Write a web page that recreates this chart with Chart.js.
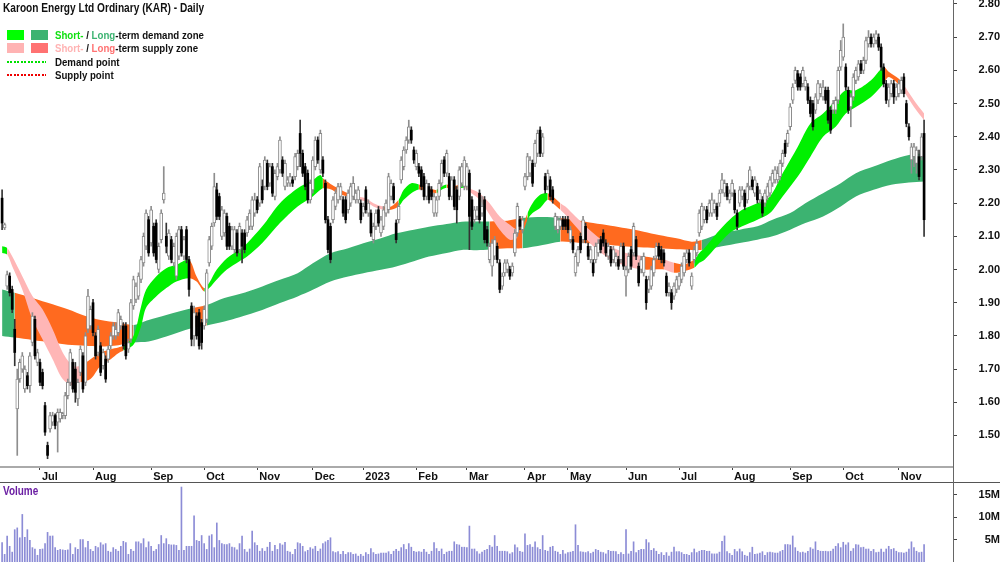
<!DOCTYPE html>
<html>
<head>
<meta charset="utf-8">
<script src="https://cdn.jsdelivr.net/npm/chart.js@4.4.0/dist/chart.umd.min.js"></script>
<style>
body { margin: 0; background: #fff; }
#wrap { position: relative; width: 1000px; height: 562px; overflow: hidden; background: #fff; font-family: 'Liberation Sans', Arial, sans-serif; }
#price { position: absolute; left: 0; top: 0; }
#vol { position: absolute; left: 0; top: 483px; }
.hline { position: absolute; left: 0; top: 482px; width: 1000px; height: 1px; background: #555; }
.vline { position: absolute; left: 953px; top: 0; width: 1px; height: 562px; background: #666; }
.txt { position: absolute; white-space: nowrap; font-weight: bold; transform-origin: 0 0; color: #111; }
.title { left: 3px; top: 1px; font-size: 12px; line-height: 14px; transform: scaleX(.845); }
.leg { left: 55px; font-size: 11px; line-height: 13px; transform: scaleX(.88); }
.sw { position: absolute; width: 17px; height: 10px; }
.dots { position: absolute; left: 7px; width: 39px; height: 2px; }
.volname { left: 3px; top: 484px; font-size: 12px; line-height: 14px; color: #6b1fa3; transform: scaleX(.83); }
</style>
</head>
<body>
<div id="wrap">
  <canvas id="price" width="1000" height="482"></canvas>
  <canvas id="vol" width="1000" height="79"></canvas>
  <div class="hline"></div>
  <div class="vline"></div>
  <div class="txt title">Karoon Energy Ltd Ordinary (KAR) - Daily</div>
  <div class="sw" style="left:7px;top:30px;background:#00ff00"></div>
  <div class="sw" style="left:31px;top:30px;background:#3cb371"></div>
  <div class="txt leg" style="top:29px"><span style="color:#10e010">Short-</span> / <span style="color:#3cb371">Long</span>-term demand zone</div>
  <div class="sw" style="left:7px;top:43px;background:#ffb3b3"></div>
  <div class="sw" style="left:31px;top:43px;background:#ff7272"></div>
  <div class="txt leg" style="top:42px"><span style="color:#ffb3b3">Short-</span> / <span style="color:#ff7272">Long</span>-term supply zone</div>
  <div class="dots" style="top:61px;background:repeating-linear-gradient(to right,#00e000 0 2px,transparent 2px 3.5px)"></div>
  <div class="txt leg" style="top:56px">Demand point</div>
  <div class="dots" style="top:74px;background:repeating-linear-gradient(to right,#ee0000 0 2px,transparent 2px 3.5px)"></div>
  <div class="txt leg" style="top:69px">Supply point</div>
  <div class="txt volname">Volume</div>
</div>
<script>
// trading day index 0 = ~9 Jun 2022, last = ~15 Nov 2023
const monthDays = [15, 36, 59, 80, 101, 123, 143, 164, 184, 207, 224, 247, 268, 289, 312, 333, 355];
const monthLabels = ['Jul', 'Aug', 'Sep', 'Oct', 'Nov', 'Dec', '2023', 'Feb', 'Mar', 'Apr', 'May', 'Jun', 'Jul', 'Aug', 'Sep', 'Oct', 'Nov'];
const priceTicks = [1.5, 1.6, 1.7, 1.8, 1.9, 2.0, 2.1, 2.2, 2.3, 2.4, 2.5, 2.6, 2.7, 2.8];
const volTicks = [5, 10, 15];

const open = [
2.215,2.125,1.95,1.98,1.94,1.82,1.58,1.67,1.70,1.64,1.68,1.65,1.78,1.85,1.72,1.72,1.69,1.59,1.47,1.52,
1.54,1.56,1.54,1.55,1.56,1.56,1.62,1.66,1.72,1.70,1.61,1.69,1.74,1.66,1.82,1.83,1.90,1.80,1.75,1.77,
1.71,1.73,1.73,1.77,1.80,1.80,1.81,1.83,1.83,1.83,1.76,1.79,1.89,1.91,1.92,1.97,2.02,2.07,2.15,2.08,
2.13,2.14,2.00,2.09,2.21,2.10,2.04,2.09,2.02,1.98,2.04,2.12,2.04,2.12,2.03,1.89,1.80,1.86,1.87,1.84,
1.83,1.85,2.02,2.07,2.14,2.24,2.22,2.10,2.11,2.16,2.13,2.07,2.06,2.11,2.06,2.11,2.11,2.11,2.13,2.13,
2.17,2.21,2.20,2.25,2.25,2.32,2.26,2.31,2.22,2.28,2.30,2.33,2.25,2.26,2.26,2.27,2.28,2.31,2.41,2.35,
2.31,2.29,2.21,2.24,2.31,2.39,2.30,2.33,2.26,2.15,2.13,2.15,2.19,2.21,2.22,2.21,2.21,2.18,2.20,2.22,
2.21,2.21,2.20,2.17,2.24,2.17,2.17,2.09,2.13,2.18,2.11,2.13,2.17,2.18,2.22,2.25,2.14,2.15,2.27,2.31,
2.36,2.39,2.42,2.36,2.31,2.31,2.30,2.28,2.22,2.25,2.24,2.17,2.17,2.22,2.26,2.33,2.29,2.28,2.22,2.27,
2.24,2.22,2.26,2.25,2.25,2.29,2.21,2.15,2.16,2.23,2.17,2.21,2.12,2.03,2.01,2.04,2.07,2.02,1.95,1.99,
2.00,2.00,1.99,2.05,2.11,2.15,2.12,2.25,2.28,2.29,2.32,2.32,2.35,2.42,2.35,2.28,2.25,2.27,2.24,2.13,
2.12,2.13,2.15,2.15,2.15,2.09,2.09,1.99,2.02,2.10,2.09,2.13,2.07,2.03,2.02,2.03,2.05,2.09,2.11,2.08,
2.04,2.06,2.03,2.02,2.03,2.03,2.07,1.98,2.00,2.06,2.05,2.09,2.01,2.00,1.99,1.97,1.94,1.95,1.99,2.04,
2.07,2.06,2.05,1.98,1.93,1.93,1.92,1.94,1.95,1.97,1.99,2.03,2.05,1.95,2.03,2.05,2.11,2.13,2.15,2.18,
2.17,2.17,2.18,2.19,2.20,2.24,2.23,2.25,2.21,2.23,2.23,2.17,2.20,2.22,2.23,2.21,2.25,2.27,2.23,2.25,
2.21,2.21,2.20,2.22,2.23,2.26,2.27,2.27,2.28,2.32,2.38,2.38,2.43,2.51,2.57,2.59,2.58,2.56,2.55,2.55,
2.51,2.50,2.48,2.51,2.53,2.52,2.54,2.54,2.48,2.48,2.48,2.51,2.61,2.64,2.61,2.54,2.49,2.52,2.57,2.58,
2.62,2.60,2.63,2.68,2.70,2.68,2.69,2.70,2.67,2.61,2.56,2.51,2.53,2.56,2.52,2.53,2.54,2.58,2.50,2.43,
2.33,2.34,2.32,2.34,2.34,2.41];
const high = [
2.24,2.14,1.995,1.99,1.95,1.85,1.70,1.73,1.75,1.71,1.69,1.75,1.87,1.86,1.76,1.73,1.70,1.60,1.48,1.57,
1.57,1.565,1.58,1.58,1.57,1.63,1.67,1.76,1.73,1.72,1.67,1.77,1.75,1.81,1.94,1.89,1.91,1.81,1.83,1.78,
1.76,1.74,1.77,1.81,1.84,1.84,1.88,1.86,1.84,1.84,1.79,1.91,1.98,1.96,1.99,2.04,2.11,2.18,2.16,2.19,
2.14,2.15,2.08,2.18,2.31,2.14,2.12,2.10,2.08,2.11,2.13,2.13,2.10,2.13,2.04,1.90,1.89,1.87,1.88,1.85,
1.89,2.00,2.10,2.14,2.29,2.26,2.23,2.19,2.18,2.17,2.14,2.13,2.13,2.12,2.14,2.12,2.12,2.16,2.18,2.22,
2.23,2.22,2.32,2.27,2.34,2.33,2.32,2.32,2.30,2.32,2.40,2.34,2.33,2.28,2.29,2.28,2.35,2.36,2.45,2.36,
2.32,2.30,2.27,2.34,2.40,2.40,2.42,2.34,2.27,2.16,2.14,2.22,2.24,2.26,2.26,2.22,2.22,2.24,2.26,2.28,
2.24,2.25,2.21,2.20,2.25,2.21,2.18,2.14,2.18,2.19,2.16,2.19,2.21,2.29,2.27,2.26,2.15,2.20,2.34,2.37,
2.40,2.45,2.43,2.37,2.36,2.32,2.31,2.29,2.27,2.26,2.25,2.23,2.22,2.27,2.33,2.34,2.36,2.29,2.28,2.28,
2.25,2.31,2.32,2.34,2.32,2.30,2.22,2.19,2.19,2.24,2.22,2.22,2.13,2.08,2.09,2.10,2.08,2.03,1.99,2.03,
2.03,2.01,2.02,2.12,2.20,2.16,2.16,2.29,2.35,2.34,2.33,2.39,2.42,2.43,2.41,2.29,2.30,2.28,2.25,2.17,
2.16,2.16,2.16,2.16,2.16,2.13,2.10,2.05,2.07,2.11,2.16,2.14,2.08,2.07,2.03,2.08,2.09,2.10,2.12,2.09,
2.08,2.07,2.07,2.05,2.04,2.08,2.08,2.01,2.05,2.07,2.14,2.10,2.02,2.04,2.05,1.98,1.98,2.01,2.04,2.08,
2.08,2.07,2.06,1.99,1.96,1.94,1.96,1.98,1.99,2.02,2.05,2.06,2.06,1.99,2.07,2.09,2.18,2.20,2.19,2.19,
2.21,2.23,2.21,2.20,2.24,2.29,2.27,2.26,2.24,2.27,2.24,2.18,2.25,2.25,2.24,2.26,2.31,2.28,2.28,2.26,
2.24,2.22,2.24,2.26,2.28,2.30,2.31,2.31,2.33,2.36,2.39,2.42,2.50,2.56,2.61,2.60,2.59,2.61,2.58,2.56,
2.52,2.51,2.53,2.57,2.56,2.57,2.55,2.55,2.49,2.51,2.52,2.61,2.69,2.74,2.62,2.55,2.53,2.59,2.61,2.63,
2.63,2.64,2.70,2.72,2.71,2.71,2.72,2.71,2.68,2.62,2.57,2.56,2.57,2.57,2.56,2.57,2.58,2.59,2.51,2.44,
2.38,2.38,2.37,2.36,2.41,2.45];
const low = [
2.12,2.12,1.94,1.92,1.87,1.71,1.44,1.66,1.69,1.63,1.64,1.63,1.77,1.73,1.71,1.65,1.64,1.50,1.43,1.51,
1.53,1.52,1.45,1.54,1.55,1.55,1.61,1.65,1.63,1.60,1.59,1.68,1.63,1.65,1.81,1.82,1.80,1.73,1.74,1.68,
1.70,1.66,1.72,1.76,1.79,1.79,1.80,1.82,1.76,1.73,1.75,1.78,1.88,1.90,1.91,1.96,2.01,2.06,2.04,2.07,
2.04,2.02,1.99,2.08,2.20,2.05,2.03,2.02,2.01,1.97,2.03,2.04,2.03,2.02,1.92,1.77,1.77,1.79,1.76,1.76,
1.82,1.84,2.01,2.06,2.13,2.15,2.15,2.09,2.10,2.06,2.06,2.06,2.05,2.04,2.05,2.02,2.05,2.10,2.12,2.12,
2.16,2.17,2.19,2.20,2.24,2.24,2.25,2.22,2.21,2.27,2.29,2.28,2.24,2.25,2.25,2.25,2.27,2.30,2.31,2.28,
2.24,2.20,2.20,2.23,2.30,2.32,2.29,2.28,2.14,2.05,2.02,2.14,2.18,2.20,2.21,2.16,2.14,2.17,2.19,2.21,
2.20,2.20,2.14,2.16,2.17,2.16,2.10,2.08,2.12,2.13,2.10,2.12,2.16,2.17,2.21,2.20,2.08,2.14,2.26,2.30,
2.35,2.38,2.38,2.32,2.30,2.28,2.24,2.21,2.21,2.20,2.21,2.16,2.16,2.21,2.25,2.28,2.28,2.21,2.21,2.18,
2.14,2.21,2.25,2.24,2.24,2.06,2.12,2.14,2.15,2.14,2.16,2.08,2.07,2.02,1.98,2.03,2.02,1.93,1.94,1.98,
1.99,1.97,1.98,2.04,2.10,2.12,2.11,2.24,2.27,2.28,2.25,2.31,2.34,2.34,2.34,2.23,2.24,2.21,2.20,2.12,
2.11,2.12,2.12,2.12,2.11,2.08,2.05,1.98,2.01,2.05,2.08,2.08,2.03,2.02,1.98,2.02,2.04,2.05,2.07,2.04,
2.03,2.01,2.02,2.01,2.00,2.02,2.00,1.92,1.99,2.00,2.04,2.03,1.95,1.99,1.98,1.88,1.93,1.94,1.98,2.03,
2.03,2.02,2.01,1.92,1.92,1.88,1.91,1.93,1.94,1.96,1.98,2.02,2.01,1.94,2.02,2.04,2.10,2.12,2.14,2.14,
2.16,2.16,2.17,2.15,2.19,2.23,2.22,2.21,2.20,2.22,2.17,2.12,2.19,2.21,2.18,2.20,2.24,2.24,2.22,2.20,
2.20,2.16,2.19,2.21,2.22,2.25,2.26,2.26,2.27,2.31,2.34,2.37,2.42,2.50,2.56,2.54,2.54,2.55,2.54,2.50,
2.46,2.42,2.47,2.50,2.52,2.51,2.50,2.44,2.41,2.47,2.47,2.50,2.60,2.63,2.54,2.47,2.43,2.51,2.56,2.57,
2.59,2.59,2.62,2.67,2.67,2.67,2.68,2.66,2.60,2.55,2.50,2.49,2.52,2.50,2.51,2.52,2.53,2.52,2.43,2.39,
2.29,2.31,2.29,2.27,2.33,2.10];
const close = [
2.14,2.135,1.985,1.93,1.88,1.75,1.67,1.72,1.74,1.70,1.65,1.74,1.86,1.74,1.75,1.66,1.65,1.51,1.44,1.56,
1.56,1.53,1.57,1.57,1.565,1.62,1.66,1.75,1.64,1.63,1.66,1.76,1.64,1.80,1.92,1.88,1.81,1.74,1.82,1.69,
1.75,1.67,1.76,1.80,1.83,1.82,1.87,1.85,1.77,1.74,1.78,1.90,1.97,1.95,1.98,2.03,2.10,2.17,2.05,2.18,
2.05,2.03,2.07,2.17,2.23,2.07,2.11,2.03,2.07,2.10,2.12,2.05,2.09,2.03,1.94,1.79,1.87,1.80,1.77,1.78,
1.88,1.99,2.09,2.13,2.25,2.16,2.16,2.18,2.17,2.07,2.07,2.12,2.12,2.05,2.13,2.07,2.06,2.15,2.17,2.21,
2.21,2.18,2.31,2.21,2.33,2.25,2.31,2.23,2.29,2.31,2.39,2.29,2.32,2.27,2.28,2.26,2.34,2.35,2.35,2.29,
2.25,2.21,2.26,2.33,2.39,2.33,2.41,2.29,2.15,2.06,2.03,2.21,2.23,2.25,2.25,2.17,2.15,2.23,2.25,2.26,
2.23,2.24,2.15,2.19,2.18,2.20,2.11,2.13,2.17,2.14,2.15,2.18,2.20,2.28,2.26,2.21,2.09,2.19,2.33,2.36,
2.39,2.43,2.39,2.33,2.35,2.29,2.25,2.22,2.26,2.21,2.22,2.22,2.21,2.26,2.32,2.29,2.35,2.22,2.27,2.19,
2.18,2.30,2.31,2.33,2.31,2.16,2.13,2.18,2.18,2.15,2.19,2.09,2.08,2.07,2.08,2.09,2.03,1.94,1.98,2.02,
2.02,1.98,2.01,2.11,2.19,2.13,2.15,2.28,2.34,2.33,2.26,2.38,2.41,2.35,2.40,2.24,2.29,2.22,2.21,2.16,
2.15,2.15,2.13,2.13,2.12,2.12,2.06,2.04,2.06,2.06,2.15,2.09,2.04,2.06,1.99,2.07,2.08,2.06,2.08,2.05,
2.07,2.02,2.06,2.04,2.01,2.07,2.01,2.00,2.04,2.01,2.13,2.04,1.96,2.03,2.04,1.90,1.97,2.00,2.03,2.07,
2.04,2.03,2.02,1.93,1.95,1.90,1.95,1.97,1.98,2.01,2.04,2.05,2.02,1.98,2.06,2.08,2.17,2.19,2.18,2.15,
2.20,2.21,2.20,2.16,2.23,2.27,2.26,2.22,2.23,2.26,2.18,2.13,2.24,2.24,2.19,2.25,2.30,2.25,2.27,2.21,
2.23,2.17,2.23,2.25,2.27,2.29,2.30,2.29,2.32,2.35,2.35,2.41,2.49,2.55,2.60,2.55,2.55,2.60,2.57,2.51,
2.47,2.43,2.52,2.56,2.55,2.55,2.51,2.45,2.42,2.50,2.51,2.60,2.66,2.70,2.55,2.48,2.52,2.58,2.60,2.62,
2.60,2.63,2.69,2.70,2.68,2.70,2.71,2.67,2.61,2.56,2.51,2.55,2.56,2.52,2.55,2.56,2.57,2.53,2.44,2.40,
2.37,2.37,2.36,2.28,2.40,2.15];

const volume = [
4.3,1.7,5.8,3.5,2.2,7.2,7.6,5.4,10.6,5.5, 7.2,4.8,3.2,2.9,1.5,2.8,2.9,4.1,6.6,5.8,
5.8,3.2,2.6,2.8,2.7,2.6,2.7,4.1,1.7,3.2, 2.8,5.0,5.0,3.2,4.6,2.8,2.4,3.5,3.2,4.3,
3.8,4.1,2.4,2.2,3.2,2.8,2.4,3.5,4.6,4.3, 1.7,2.8,2.4,4.5,4.5,4.1,5.2,3.2,4.5,3.5,
2.4,2.8,3.9,5.9,4.1,5.2,3.9,3.8,3.8,3.7, 2.6,16.7,2.6,3.5,3.5,3.5,10.3,4.8,4.6,5.9,
4.1,2.8,5.8,6.1,3.2,8.7,4.8,4.1,3.9,3.9, 4.1,3.3,3.2,2.7,4.1,5.8,2.8,2.2,2.9,6.9,
4.3,3.7,2.4,3.0,2.4,3.3,4.4,2.4,3.7,2.8, 4.1,3.8,4.4,2.4,2.2,1.7,2.8,4.3,4.1,3.5,
2.3,2.6,3.2,2.9,3.5,2.4,2.9,4.1,4.5,4.8, 5.4,2.3,2.1,2.3,1.7,2.4,1.7,2.1,2.1,1.7,
1.8,1.3,1.7,1.3,2.1,1.7,3.0,2.1,1.7, 1.8,2.0,2.0,2.0,2.3,1.7,2.4,2.8,2.4,3.2,
3.9,2.8,4.1,3.3,2.4,2.2,2.3,2.2,2.8,2.2, 1.7,2.4,4.3,3.0,2.4,2.9,1.7,2.2,2.4,
2.4,4.5,3.9,3.8,3.3,3.3,3.2,8.0,2.9,2.9, 2.3,1.8,2.2,2.6,2.8,3.7,3.3,5.9,3.5,2.4,
2.4,2.4,2.3,1.8,2.1,3.8,3.2,2.4,2.2,6.3, 3.7,3.9,3.3,4.5,3.2,2.8,5.9,2.6,2.4,3.3,
3.5,2.4,2.2,1.7,2.6,1.8,2.1,2.2,2.4,8.3, 3.7,2.3,2.2,2.1,2.3,1.9,2.2,2.8,2.6,2.2,
2.1,1.8,2.6,2.4,2.4,2.3,1.7,2.1,1.7, 7.2,1.8,2.4,4.5,2.1,2.6,2.8,2.8,5.0,4.3,
2.6,3.0,2.4,1.7,2.1,1.5,2.1,1.3,2.2,3.3, 2.3,2.3,2.1,1.7,1.7,1.5,2.1,2.9,2.1,
2.4,2.6,2.6,2.4,2.4,1.8,1.8,1.8,2.2,4.6, 5.8,2.3,1.9,1.5,2.8,2.3,2.9,2.3,1.5,1.3,
2.1,3.3,1.7,1.8,2.0,2.3,1.5,2.1,2.2, 2.1,2.0,2.0,2.3,2.6,3.9,3.9,3.8,5.8,3.2,
2.4,2.1,2.2,2.0,2.4,3.2,2.9,4.5,2.6,2.4, 2.4,2.4,2.3,2.4,2.9,3.5,4.1,3.2,4.4,3.8,
4.3,2.4,3.0,3.9,3.8,3.2,3.3,2.9,2.9,2.4, 2.8,2.1,2.2,2.9,2.2,2.9,3.5,2.8,3.0,2.4,
2.1,2.1,2.0,2.2,2.9,4.5,3.2,2.4,2.1,2.2, 3.9];

// long-term band edges (sampled), zone D = demand, S = supply
const longDays = [0,5,12,20,26,33,39,46,52,58,65,75,81,88,94,103,110,117,123,130,137,143,150,156,163,169,176,182,188,193,200,206,214,221,228,234,241,247,254,260,267,273,277,285,292,299,305,312,318,325,332,338,345,352,359,365];
const longHi = [1.94,1.93,1.914,1.895,1.88,1.86,1.848,1.84,1.833,1.848,1.863,1.883,1.893,1.914,1.926,1.949,1.969,1.989,2.019,2.049,2.064,2.079,2.094,2.109,2.12,2.129,2.137,2.144,2.145,2.145,2.147,2.155,2.158,2.155,2.148,2.14,2.132,2.124,2.114,2.104,2.094,2.084,2.089,2.11,2.12,2.13,2.15,2.17,2.20,2.23,2.26,2.29,2.31,2.33,2.345,2.35];
const longLo = [1.80,1.795,1.788,1.78,1.773,1.77,1.768,1.772,1.78,1.783,1.798,1.823,1.831,1.843,1.856,1.878,1.899,1.919,1.939,1.964,1.979,1.989,1.999,2.009,2.025,2.039,2.05,2.059,2.058,2.06,2.064,2.064,2.074,2.084,2.081,2.079,2.074,2.069,2.066,2.064,2.061,2.059,2.059,2.07,2.08,2.09,2.10,2.12,2.14,2.16,2.19,2.22,2.24,2.255,2.262,2.265];
const longZone = ['D','S','S','S','S','S','S','S','D','D','D','S','D','D','D','D','D','D','D','D','D','D','D','D','D','D','D','D','D','S','S','D','D','S','S','S','S','S','S','S','S','S','D','D','D','D','D','D','D','D','D','D','D','D','D','D'];

// short-term band edges (sampled), zone D = demand, S = supply, T = turning
const shortDays = [0,2,4,8,12,16,20,24,28,31,35,39,43,46,48,52,55,57,61,65,69,74,77,80,82,85,89,94,97,103,110,117,123,126,127,130,133,137,139,141,144,147,151,154,157,159,162,165,169,172,174,176,178,181,183,185,189,193,197,201,204,206,208,210,213,216,218,221,223,227,234,241,247,254,258,262,266,270,274,276,278,283,288,293,299,304,309,315,320,325,330,334,338,344,349,351,355,357,361,365];
const shortHi = [2.07,2.065,2.04,1.98,1.92,1.88,1.82,1.75,1.71,1.71,1.73,1.75,1.76,1.765,1.77,1.80,1.888,1.939,1.979,2.004,2.014,2.029,1.979,1.944,1.96,2.0,2.034,2.06,2.079,2.13,2.20,2.245,2.27,2.285,2.275,2.258,2.245,2.23,2.229,2.22,2.215,2.20,2.19,2.19,2.21,2.24,2.26,2.256,2.245,2.24,2.25,2.256,2.25,2.255,2.256,2.245,2.23,2.20,2.16,2.135,2.12,2.13,2.17,2.20,2.225,2.23,2.22,2.20,2.19,2.16,2.11,2.07,2.05,2.04,2.035,2.03,2.02,2.015,2.03,2.05,2.064,2.11,2.15,2.18,2.20,2.22,2.29,2.37,2.44,2.47,2.51,2.54,2.54,2.57,2.61,2.596,2.575,2.556,2.51,2.47];
const shortLo = [2.05,2.045,2.01,1.94,1.85,1.79,1.73,1.67,1.65,1.66,1.67,1.71,1.73,1.748,1.755,1.773,1.828,1.885,1.919,1.944,1.964,1.974,1.964,1.934,1.944,1.97,2.0,2.025,2.039,2.08,2.14,2.19,2.22,2.24,2.245,2.242,2.23,2.22,2.221,2.21,2.205,2.19,2.18,2.18,2.19,2.21,2.23,2.241,2.235,2.23,2.24,2.246,2.24,2.245,2.246,2.235,2.21,2.165,2.12,2.09,2.095,2.11,2.15,2.17,2.185,2.21,2.20,2.18,2.165,2.13,2.07,2.03,2.01,2.0,2.0,2.0,1.99,1.995,2.005,2.02,2.029,2.07,2.11,2.13,2.15,2.17,2.22,2.28,2.34,2.40,2.43,2.47,2.49,2.52,2.56,2.58,2.557,2.536,2.49,2.45];
const shortZone = ['D','S','S','S','S','S','S','S','S','T','T','T','T','T','D','D','D','D','D','D','D','T','T','D','D','D','D','D','D','D','D','D','D','D','T','T','T','D','S','S','S','S','T','T','D','D','D','T','T','D','D','T','T','D','S','S','S','S','S','S','T','T','D','D','D','T','T','S','S','S','S','S','S','T','T','S','T','T','D','D','D','D','D','D','D','D','D','D','D','D','D','D','D','D','T','T','T','S','S','S'];

const longColours = { D: '#3cb371', S: '#ff6a1f' };
const shortColours = { D: '#00f000', S: '#ffb6b6', T: '#ff6a1f' };

const xMin = -0.83, xMax = 376.45;
const tickFont = { family: "'Liberation Sans', Arial, sans-serif", size: 11, weight: 'bold' };

function bandLine(days, vals) {
  return days.map((d, k) => ({ x: d, y: vals[k] }));
}
const isUp = i => close[i] >= open[i];
const upBodies = [], downBodies = [];
open.forEach((o, i) => (isUp(i) ? upBodies : downBodies).push({ x: i, y: [o, close[i]] }));

new Chart(document.getElementById('price'), {
  type: 'bar',
  data: {
    datasets: [
      { type: 'line', data: bandLine(longDays, longLo), order: 6, borderColor: 'rgba(0,0,0,0)', borderWidth: 0, pointRadius: 0, tension: 0.3, fill: false },
      { type: 'line', data: bandLine(longDays, longHi), order: 5, borderColor: 'rgba(0,0,0,0)', borderWidth: 0, pointRadius: 0, tension: 0.3,
        fill: '-1', backgroundColor: longColours.D,
        segment: { backgroundColor: c => longColours[longZone[c.p0DataIndex]] } },
      { type: 'line', data: bandLine(shortDays, shortLo), order: 4, borderColor: 'rgba(0,0,0,0)', borderWidth: 0, pointRadius: 0, tension: 0.3, fill: false },
      { type: 'line', data: bandLine(shortDays, shortHi), order: 3, borderColor: 'rgba(0,0,0,0)', borderWidth: 0, pointRadius: 0, tension: 0.3,
        fill: '-1', backgroundColor: shortColours.D,
        segment: { backgroundColor: c => shortColours[shortZone[c.p0DataIndex]] } },
      { data: low.map((v, i) => ({ x: i, y: [v, high[i]] })), order: 2, barThickness: 1, grouped: false,
        backgroundColor: c => isUp(c.dataIndex) ? '#8e8e8e' : '#333' },
      { data: upBodies, order: 1, barThickness: 3, grouped: false, minBarLength: 2,
        backgroundColor: '#ffffff', borderColor: '#8a8a8a', borderWidth: 1, borderSkipped: false },
      { data: downBodies, order: 0, barThickness: 2, grouped: false, minBarLength: 1, backgroundColor: '#000' }
    ]
  },
  options: {
    responsive: false, animation: false, events: [],
    layout: { padding: 0 },
    plugins: { legend: { display: false }, tooltip: { enabled: false } },
    scales: {
      x: {
        type: 'linear', min: xMin, max: xMax, offset: false,
        afterBuildTicks: s => { s.ticks = monthDays.map(v => ({ value: v })); },
        afterFit: s => { s.height = 15; s.paddingLeft = 0; s.paddingRight = 0; },
        grid: { offset: false, drawOnChartArea: false, tickLength: 3, color: '#444' },
        border: { display: true, color: '#aaaaaa', width: 2 },
        ticks: { autoSkip: false, maxRotation: 0, align: 'start', labelOffset: 2, padding: 0, color: '#111', font: tickFont,
          callback: v => monthLabels[monthDays.indexOf(v)] }
      },
      y: {
        position: 'right', min: 1.405, max: 2.812,
        afterBuildTicks: s => { s.ticks = priceTicks.map(v => ({ value: v })); },
        afterFit: s => { s.width = 47; s.paddingTop = 0; s.paddingBottom = 0; },
        grid: { drawOnChartArea: false, tickLength: 4, color: '#444' },
        border: { display: false },
        ticks: { crossAlign: 'far', padding: 21, color: '#111', font: tickFont, callback: v => v.toFixed(2) }
      }
    }
  }
});

new Chart(document.getElementById('vol'), {
  type: 'bar',
  data: {
    datasets: [{ data: volume.map((v, i) => ({ x: i, y: v })), barThickness: 1, grouped: false, backgroundColor: '#8c8cd6' }]
  },
  options: {
    responsive: false, animation: false, events: [],
    layout: { padding: 0 },
    plugins: { legend: { display: false }, tooltip: { enabled: false } },
    scales: {
      x: { type: 'linear', min: xMin, max: xMax, offset: false, display: false },
      y: {
        position: 'right', min: 0, max: 17.6,
        afterBuildTicks: s => { s.ticks = volTicks.map(v => ({ value: v })); },
        afterFit: s => { s.width = 47; s.paddingTop = 0; s.paddingBottom = 0; },
        grid: { drawOnChartArea: false, tickLength: 4, color: '#444' },
        border: { display: false },
        ticks: { crossAlign: 'far', padding: 21, color: '#111', font: tickFont, callback: v => v + 'M' }
      }
    }
  }
});
</script>
</body>
</html>
